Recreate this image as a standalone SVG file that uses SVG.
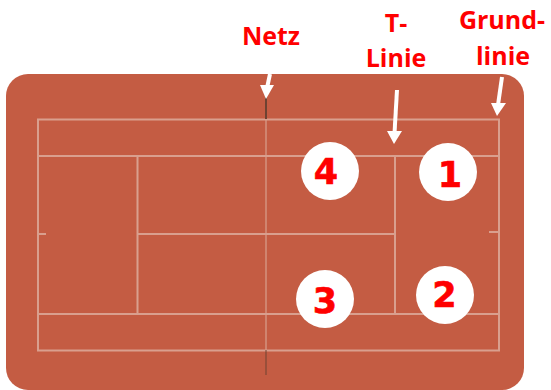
<svg xmlns="http://www.w3.org/2000/svg" width="551" height="390" viewBox="0 0 551 390">
<defs>
<style>
.ln{stroke:#d99f8e;stroke-width:2;fill:none}
.net{stroke:#6e4232;fill:none}
.lb{font-family:"Open Sans",sans-serif;font-weight:700;font-size:25px;fill:#ff0000;text-anchor:middle}
.num{font-family:"DejaVu Sans",sans-serif;font-weight:700;font-size:35px;fill:#ff0000;stroke:#ff0000;stroke-width:.6;text-anchor:middle}
.arr{stroke:#fff;stroke-width:4;fill:none}
.head{fill:#fff}
.c{fill:#fff}
</style>
</defs>
<rect x="6" y="74" width="518" height="316" rx="22" fill="#c45c43"/>
<g id="court">
<rect class="ln" x="38" y="119.500" width="461" height="231"/>
<path class="ln" d="M38 156H499M38 314H499M137.500 156V314M395 156V314M137 234H395M38 234H46M489 232H499"/>
<path d="M266 119V350" stroke="#d99f8e" stroke-width="1.200" fill="none"/>
</g>
<g id="connectors">
<path class="net" stroke-width="2" d="M266 96V119"/>
<path class="net" stroke-width="1" d="M266 350V375"/>
<path class="arr" d="M270 74L267 88"/><path class="head" d="M260 85H274L266 99Z"/>
<path class="arr" d="M397 90L394.500 133"/><path class="head" d="M387 131H402L394 144Z"/>
<path class="arr" d="M502 77L498 105"/><path class="head" d="M491 103H506L497 116Z"/>
</g>
<g id="n1"><circle class="c" cx="448" cy="172" r="29"/><text class="num" x="450" y="187">1</text></g>
<g id="n2"><circle class="c" cx="445" cy="295" r="29"/><text class="num" x="444.500" y="307">2</text></g>
<g id="n3"><circle class="c" cx="325" cy="299" r="29"/><text class="num" x="325" y="313">3</text></g>
<g id="n4"><circle class="c" cx="330" cy="171" r="29"/><text class="num" x="326" y="184">4</text></g>
<g id="labels">
<text class="lb" x="271" y="45">Netz</text>
<text class="lb" x="396" y="32">T-</text>
<text class="lb" x="396" y="67">Linie</text>
<text class="lb" x="502" y="29">Grund-</text>
<text class="lb" x="503" y="65">linie</text>
</g>
</svg>
